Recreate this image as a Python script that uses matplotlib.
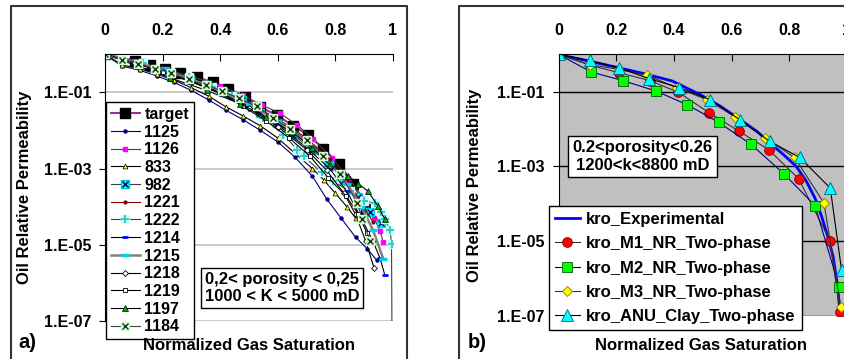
import numpy as np
import matplotlib
matplotlib.use("Agg")
import matplotlib.pyplot as plt
from matplotlib.legend_handler import HandlerTuple
from matplotlib.lines import Line2D

plt.rcParams['font.family'] = ['Liberation Sans', 'DejaVu Sans']
plt.rcParams['font.weight'] = 'bold'

# ---------------- Panel a) data (x = normalized Sg, values = log10(kro)) ----------------
target_x = [0, 0.104, 0.156, 0.21, 0.26, 0.318, 0.376, 0.428, 0.486, 0.538, 0.596, 0.652, 0.706, 0.758, 0.813, 0.862, 0.908]
target_lk = [0, -0.17, -0.27, -0.38, -0.48, -0.60, -0.74, -0.90, -1.11, -1.39, -1.59, -1.88, -2.11, -2.48, -2.87, -3.40, -4.05]

s1125_x = [0, 0.058, 0.12, 0.18, 0.24, 0.30, 0.36, 0.42, 0.48, 0.54, 0.60, 0.66, 0.72, 0.77, 0.82, 0.87, 0.91, 0.943]
s1125_lk = [0, -0.31, -0.42, -0.57, -0.74, -0.95, -1.20, -1.47, -1.72, -2.00, -2.30, -2.70, -3.20, -3.80, -4.30, -4.80, -5.10, -5.40]

s1126_x = [0, 0.10, 0.20, 0.30, 0.40, 0.48, 0.544, 0.608, 0.666, 0.723, 0.787, 0.845, 0.90, 0.935, 0.955, 0.966]
s1126_lk = [0, -0.19, -0.38, -0.58, -0.84, -1.08, -1.33, -1.55, -1.85, -2.22, -2.72, -3.24, -3.80, -4.30, -4.64, -4.93]

s833_x = [0, 0.06, 0.12, 0.18, 0.24, 0.30, 0.36, 0.42, 0.48, 0.54, 0.60, 0.66, 0.72, 0.76, 0.80, 0.84, 0.87]
s833_lk = [0, -0.28, -0.38, -0.52, -0.68, -0.88, -1.10, -1.38, -1.62, -1.88, -2.20, -2.60, -3.00, -3.30, -3.65, -4.00, -4.30]

s982_x = [0, 0.127, 0.21, 0.295, 0.355, 0.41, 0.475, 0.538, 0.596, 0.654, 0.718, 0.776, 0.83, 0.88, 0.92, 0.96]
s982_lk = [0, -0.24, -0.44, -0.66, -0.82, -0.98, -1.20, -1.55, -1.80, -2.11, -2.50, -2.85, -3.30, -3.75, -4.15, -4.42]

s1221_x = [0, 0.10, 0.20, 0.30, 0.40, 0.50, 0.60, 0.70, 0.78, 0.84, 0.89, 0.93]
s1221_lk = [0, -0.22, -0.42, -0.65, -0.92, -1.28, -1.70, -2.20, -2.75, -3.30, -3.90, -4.40]

s1222_x = [0, 0.133, 0.29, 0.37, 0.44, 0.50, 0.55, 0.619, 0.668, 0.69, 0.752, 0.793, 0.85, 0.90, 0.9375, 0.958, 0.972, 0.99, 0.995, 0.9976]
s1222_lk = [0, -0.23, -0.60, -0.85, -1.10, -1.40, -1.67, -2.11, -2.50, -2.68, -3.10, -3.33, -3.60, -3.85, -3.90, -4.14, -4.33, -4.61, -4.99, -9.0]

s1214_x = [0, 0.10, 0.20, 0.30, 0.40, 0.50, 0.60, 0.70, 0.78, 0.84, 0.89, 0.93, 0.955, 0.972]
s1214_lk = [0, -0.22, -0.45, -0.70, -1.00, -1.38, -1.85, -2.45, -3.00, -3.60, -4.30, -4.90, -5.35, -5.80]

s1215_x = [0, 0.10, 0.20, 0.30, 0.40, 0.50, 0.60, 0.70, 0.78, 0.84, 0.89, 0.93, 0.966]
s1215_lk = [0, -0.20, -0.42, -0.66, -0.95, -1.30, -1.75, -2.30, -2.85, -3.40, -4.00, -4.60, -5.36]

s1218_x = [0, 0.10, 0.20, 0.30, 0.40, 0.50, 0.60, 0.70, 0.77, 0.83, 0.87, 0.905, 0.934]
s1218_lk = [0, -0.23, -0.46, -0.72, -1.03, -1.42, -1.90, -2.50, -3.05, -3.65, -4.20, -4.90, -5.60]

s1219_x = [0, 0.10, 0.20, 0.30, 0.40, 0.48, 0.56, 0.64, 0.712, 0.775, 0.837, 0.88, 0.91]
s1219_lk = [0, -0.22, -0.46, -0.72, -1.02, -1.37, -1.75, -2.20, -2.68, -3.24, -3.72, -4.20, -4.70]

s1197_x = [0, 0.11, 0.226, 0.353, 0.47, 0.56, 0.65, 0.72, 0.78, 0.845, 0.88, 0.914, 0.948, 0.972]
s1197_lk = [0, -0.30, -0.62, -0.95, -1.30, -1.65, -2.05, -2.45, -2.90, -3.20, -3.40, -3.60, -3.99, -4.33]

s1184_x = [0, 0.058, 0.116, 0.174, 0.23, 0.29, 0.35, 0.408, 0.466, 0.527, 0.584, 0.642, 0.70, 0.758, 0.816, 0.876, 0.894, 0.92]
s1184_lk = [0, -0.14, -0.25, -0.38, -0.49, -0.66, -0.81, -0.97, -1.16, -1.37, -1.67, -1.96, -2.24, -2.66, -3.13, -3.90, -4.33, -4.90]

# ---------------- Panel b) data ----------------
exp_x = [0, 0.10, 0.20, 0.30, 0.394, 0.49, 0.56, 0.629, 0.69, 0.733, 0.78, 0.825, 0.86, 0.89, 0.913, 0.935, 0.953, 0.968, 0.977]
exp_lk = [0, -0.17, -0.34, -0.52, -0.71, -1.07, -1.38, -1.74, -2.07, -2.37, -2.68, -3.00, -3.40, -3.85, -4.34, -4.90, -5.42, -6.20, -6.93]

m1_x = [0, 0.11, 0.21, 0.316, 0.415, 0.522, 0.625, 0.729, 0.833, 0.942, 0.977]
m1_lk = [0, -0.29, -0.49, -0.70, -1.01, -1.56, -2.05, -2.55, -3.33, -4.99, -6.91]

m2_x = [0, 0.113, 0.223, 0.338, 0.447, 0.556, 0.668, 0.781, 0.89, 0.974]
m2_lk = [0, -0.47, -0.70, -0.98, -1.35, -1.82, -2.41, -3.19, -4.05, -6.24]

m3_x = [0, 0.107, 0.208, 0.307, 0.411, 0.514, 0.613, 0.717, 0.819, 0.921, 0.98]
m3_lk = [0, -0.27, -0.40, -0.56, -0.89, -1.21, -1.67, -2.24, -2.76, -3.98, -6.78]

anu_x = [0, 0.107, 0.21, 0.315, 0.419, 0.526, 0.631, 0.733, 0.837, 0.943, 0.982]
anu_lk = [0, -0.16, -0.36, -0.65, -0.89, -1.21, -1.76, -2.33, -2.76, -3.58, -5.77]

xticks = [0, 0.2, 0.4, 0.6, 0.8, 1]
xtick_labels = ['0', '0.2', '0.4', '0.6', '0.8', '1']
yticks = [1e-1, 1e-3, 1e-5, 1e-7]
ytick_labels = ['1.E-01', '1.E-03', '1.E-05', '1.E-07']


def k(v):
    return 10.0 ** np.asarray(v, dtype=float)


fig = plt.figure(figsize=(8.44, 3.59), dpi=100)
axA = fig.add_axes([0.1244, 0.1058, 0.3412, 0.7431])
axB = fig.add_axes([0.662, 0.1206, 0.3412, 0.7276])

for ax in (axA, axB):
    ax.set_yscale('log')
    ax.set_xlim(0, 1)
    ax.set_ylim(1e-7, 1)
    ax.xaxis.set_ticks_position('top')
    ax.set_xticks(xticks)
    ax.set_xticklabels(xtick_labels)
    ax.set_yticks(yticks)
    ax.set_yticklabels(ytick_labels)
    ax.minorticks_off()
    ax.tick_params(axis='x', direction='in', length=5, pad=12, labelsize=11.5)
    ax.tick_params(axis='y', direction='out', length=4, pad=6, labelsize=11.5)
    for lbl in ax.get_xticklabels() + ax.get_yticklabels():
        lbl.set_fontweight('bold')
    ax.spines['bottom'].set_visible(False)
    ax.spines['right'].set_visible(False)
    ax.set_axisbelow(True)

axA.grid(axis='y', color='#c0c0c0', lw=1.2)
axB.set_facecolor('#c0c0c0')
axB.grid(axis='y', color='black', lw=1.0)

# ---------- panel a series ----------
hA = []
labA = []
h, = axA.plot(target_x, k(target_lk), color='#993399', lw=1.5, marker='s', ms=7.5,
              mfc='black', mec='black')
hA.append(h); labA.append('target')
h, = axA.plot(s1125_x, k(s1125_lk), color='#000080', lw=0.8, marker='o', ms=2.2, mfc='#000080', mec='#000080')
hA.append(h); labA.append('1125')
h, = axA.plot(s1126_x, k(s1126_lk), color='#404040', lw=0.8, marker='s', ms=3, mfc='#ff00ff', mec='#ff00ff')
hA.append(h); labA.append('1126')
h, = axA.plot(s833_x, k(s833_lk), color='black', lw=0.8, marker='^', ms=3.5, mfc='#ffff00', mec='black', mew=0.5)
hA.append(h); labA.append('833')
h1, = axA.plot(s982_x, k(s982_lk), color='#404040', lw=0.8, marker='s', ms=5.5, mfc='#00ffff', mec='#00cccc')
h2, = axA.plot(s982_x, k(s982_lk), ls='none', marker='x', ms=4, mec='#000080', mew=1)
hA.append((h1, h2)); labA.append('982')
h, = axA.plot(s1221_x, k(s1221_lk), color='#800000', lw=0.8, marker='o', ms=2, mfc='#800000', mec='#800000')
hA.append(h); labA.append('1221')
h1, = axA.plot(s1222_x, k(s1222_lk), color='#404040', lw=0.8, marker='s', ms=5.5, mfc='#ccffff', mec='#ccffff')
h2, = axA.plot(s1222_x, k(s1222_lk), ls='none', marker='+', ms=6, mec='#33cccc', mew=1.5)
hA.append((h1, h2)); labA.append('1222')
h, = axA.plot(s1214_x, k(s1214_lk), color='black', lw=0.8, marker='_', ms=4, mec='#0000ff', mew=2)
hA.append(h); labA.append('1214')
h, = axA.plot(s1215_x, k(s1215_lk), color='#808080', lw=1.8, marker='_', ms=6, mec='#00ccff', mew=2.5)
hA.append(h); labA.append('1215')
h, = axA.plot(s1218_x, k(s1218_lk), color='black', lw=0.8, marker='D', ms=3, mfc='white', mec='black', mew=0.6)
hA.append(h); labA.append('1218')
h, = axA.plot(s1219_x, k(s1219_lk), color='black', lw=0.8, marker='s', ms=3.2, mfc='white', mec='black', mew=0.6)
hA.append(h); labA.append('1219')
h, = axA.plot(s1197_x, k(s1197_lk), color='black', lw=0.8, marker='^', ms=3.8, mfc='#00aa00', mec='black', mew=0.5)
hA.append(h); labA.append('1197')
h1, = axA.plot(s1184_x, k(s1184_lk), color='#404040', lw=0.8, marker='s', ms=5.5, mfc='#ccffcc', mec='#ccffcc')
h2, = axA.plot(s1184_x, k(s1184_lk), ls='none', marker='x', ms=4, mec='#203020', mew=1)
hA.append((h1, h2)); labA.append('1184')

legA = axA.legend(hA, labA, loc='upper left', bbox_to_anchor=(106 / 844, 1 - 102 / 359),
                  bbox_transform=fig.transFigure, borderaxespad=0, fancybox=False,
                  edgecolor='black', framealpha=1, prop={'size': 11.5, 'weight': 'bold'},
                  handlelength=1.8, handletextpad=0.3, labelspacing=0.17, borderpad=0.3,
                  handler_map={tuple: HandlerTuple(ndivide=1)})
legA.get_frame().set_linewidth(1.0)

# ---------- panel b series ----------
hB = []
h, = axB.plot(exp_x, k(exp_lk), color='#0000ff', lw=2.0)
hB.append(h)
h, = axB.plot(m1_x, k(m1_lk), color='#333333', lw=0.8, marker='o', ms=7, mfc='#ff0000', mec='#800000', mew=0.6)
hB.append(h)
h, = axB.plot(m2_x, k(m2_lk), color='#000080', lw=0.8, marker='s', ms=6.5, mfc='#00ff00', mec='#006000', mew=0.6)
hB.append(h)
h, = axB.plot(m3_x, k(m3_lk), color='#333333', lw=0.8, marker='D', ms=5.5, mfc='#ffff00', mec='#808000', mew=0.6)
hB.append(h)
h, = axB.plot(anu_x, k(anu_lk), color='black', lw=0.8, marker='^', ms=8, mfc='#00ffff', mec='#006080', mew=0.6)
hB.append(h)
labB = ['kro_Experimental', 'kro_M1_NR_Two-phase', 'kro_M2_NR_Two-phase',
        'kro_M3_NR_Two-phase', 'kro_ANU_Clay_Two-phase']
legB = axB.legend(hB, labB, loc='upper left', bbox_to_anchor=(548.7 / 844, 1 - 206 / 359),
                  bbox_transform=fig.transFigure, borderaxespad=0, fancybox=False,
                  edgecolor='black', framealpha=1, prop={'size': 12, 'weight': 'bold'},
                  handlelength=1.5, handletextpad=0.4, labelspacing=0.56, borderpad=0.35)
legB.get_frame().set_linewidth(1.0)

# ---------- text ----------
fig.text(25 / 844, 1 - 187.5 / 359, 'Oil Relative Permeability', rotation=90, ha='center', va='center',
         fontsize=12, fontweight='bold')
fig.text(475 / 844, 1 - 185 / 359, 'Oil Relative Permeability', rotation=90, ha='center', va='center',
         fontsize=12, fontweight='bold')
fig.text(249 / 844, 1 - 345 / 359, 'Normalized Gas Saturation', ha='center', va='center',
         fontsize=12, fontweight='bold')
fig.text(701 / 844, 1 - 345 / 359, 'Normalized Gas Saturation', ha='center', va='center',
         fontsize=12, fontweight='bold')
fig.text(27 / 844, 1 - 342 / 359, 'a)', ha='center', va='center', fontsize=14.5, fontweight='bold')
fig.text(477 / 844, 1 - 342 / 359, 'b)', ha='center', va='center', fontsize=14.5, fontweight='bold')

fig.text(282 / 844, 1 - 288 / 359, '0,2< porosity < 0,25\n1000 < K < 5000 mD', ha='center', va='center',
         fontsize=12, fontweight='bold', linespacing=1.2,
         bbox=dict(boxstyle='square,pad=0.2', fc='white', ec='black', lw=1.0))
fig.text(642.5 / 844, 1 - 156.5 / 359, '0.2<porosity<0.26\n1200<k<8800 mD', ha='center', va='center',
         fontsize=12, fontweight='bold', linespacing=1.2,
         bbox=dict(boxstyle='square,pad=0.25', fc='white', ec='black', lw=1.0))

# ---------- panel frames ----------
for xs, ys in (([10.5, 10.5, 407, 407], [362, 5.5, 5.5, 362]),
               ([459, 459, 850], [362, 6, 6])):
    fig.add_artist(Line2D(np.array(xs) / 844, 1 - np.array(ys) / 359, transform=fig.transFigure,
                          color='#333333', lw=1.5))

fig.savefig('out.png', dpi=100)
